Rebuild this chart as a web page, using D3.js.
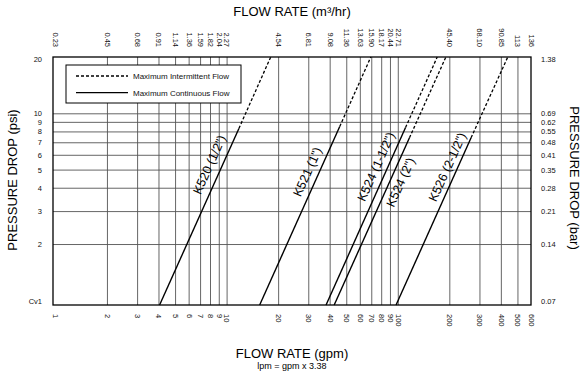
<!DOCTYPE html>
<html>
<head>
<meta charset="utf-8">
<script src="https://cdn.jsdelivr.net/npm/d3@7"></script>
<style>
  body { margin: 0; background: #fff; }
  svg { display: block; font-family: "Liberation Sans", Arial, sans-serif; }
</style>
</head>
<body>
<div id="chart"></div>
<script>
// flow rate ticks (gpm) and the matching m3/hr labels on top
var gpmTicks = [1, 2, 3, 4, 5, 6, 7, 8, 9, 10, 20, 30, 40, 50, 60, 70, 80, 90, 100, 200, 300, 400, 500, 600];
var m3hrLabels = ["0.23", "0.45", "0.68", "0.91", "1.14", "1.36", "1.59", "1.82", "2.04", "2.27",
  "4.54", "6.81", "9.08", "11.36", "13.63", "15.90", "18.17", "20.44", "22.71",
  "45.40", "68.10", "90.85", "113", "136"];

// pressure drop ticks (psi) and bar labels on the right
var psiTicks = [1, 2, 3, 4, 5, 6, 7, 8, 9, 10, 20];
var psiLabels = ["Cv1", "2", "3", "4", "5", "6", "7", "8", "9", "10", "20"];
var barLabels = ["0.07", "0.14", "0.21", "0.28", "0.35", "0.41", "0.48", "0.55", "0.62", "0.69", "1.38"];

// valve curves: flow at bottom edge, end of continuous flow, end of intermittent flow (20 psi)
var models = ["K520 (1/2\")", "K521 (1\")", "K524 (1-1/2\")", "K524 (2\")", "K526 (2-1/2\")"];
var startGpm = [4.06, 15.6, 38.1, 42.5, 97.7];
var contGpm = [11.8, 45.8, 111, 117, 268];
var contPsi = [8.3, 8.5, 8.4, 7.4, 7.4];
var maxGpm = [18.1, 69.6, 170, 191, 439];
var maxPsi = 20;
var minPsi = 0.944;

var width = 585, height = 373;
var plotL = 53, plotR = 531, plotT = 57, plotB = 305;

var svg = d3.select("#chart").append("svg")
  .attr("width", width).attr("height", height);

var x = d3.scaleLog().domain([0.968, 600]).range([plotL, plotR]);
var y = d3.scaleLog().domain([minPsi, maxPsi]).range([plotB, plotT]);

// grid
var gridX = svg.append("g").attr("transform", "translate(0," + plotB + ")")
  .call(d3.axisBottom(x).tickValues(gpmTicks.filter(function(d) { return d > 1 && d < 600; }))
    .tickSize(-(plotB - plotT)).tickFormat(""));
var gridY = svg.append("g").attr("transform", "translate(" + plotL + ",0)")
  .call(d3.axisLeft(y).tickValues(psiTicks.filter(function(d) { return d > 1 && d < 20; }))
    .tickSize(-(plotR - plotL)).tickFormat(""));
svg.selectAll("g").select(".domain").remove();
svg.selectAll("g .tick line").attr("stroke", "#555").attr("stroke-width", 0.9);

// axes labels
var bottomAxis = svg.append("g").attr("transform", "translate(0," + plotB + ")")
  .call(d3.axisBottom(x).tickValues(gpmTicks).tickSize(0).tickFormat(function(d, i) { return gpmTicks[i]; }));
bottomAxis.selectAll("text")
  .attr("y", 0).attr("x", 9).attr("dy", "0.35em")
  .attr("transform", "rotate(90)")
  .style("text-anchor", "start");

var topAxis = svg.append("g").attr("transform", "translate(0," + plotT + ")")
  .call(d3.axisTop(x).tickValues(gpmTicks).tickSize(0).tickFormat(function(d, i) { return m3hrLabels[i]; }));
topAxis.selectAll("text")
  .attr("y", 0).attr("x", -10).attr("dy", "0.35em")
  .attr("transform", "rotate(90)")
  .style("text-anchor", "end");

var leftAxis = svg.append("g").attr("transform", "translate(" + plotL + ",0)")
  .call(d3.axisLeft(y).tickValues(psiTicks).tickSize(0).tickPadding(11)
    .tickFormat(function(d, i) { return psiLabels[i]; }));

var rightAxis = svg.append("g").attr("transform", "translate(" + plotR + ",0)")
  .call(d3.axisRight(y).tickValues(psiTicks).tickSize(0).tickPadding(10)
    .tickFormat(function(d, i) { return barLabels[i]; }));

[bottomAxis, topAxis, leftAxis, rightAxis].forEach(function(a) {
  a.select(".domain").remove();
  a.selectAll("text").attr("fill", "#111").style("font-size", "7.5px")
    .style("font-family", "'Liberation Sans', Arial, sans-serif");
});
// edge labels sit a bit inside the frame
[leftAxis, rightAxis].forEach(function(a) {
  a.selectAll(".tick text").attr("dy", function(d) {
    if (d == 1) return "2.8";
    if (d == 20) return "4.5";
    return "0.32em";
  });
});

// frame
svg.append("rect")
  .attr("x", plotL).attr("y", plotT)
  .attr("width", plotR - plotL).attr("height", plotB - plotT)
  .attr("fill", "none").attr("stroke", "#000").attr("stroke-width", 1.3);

// curves
var line = d3.line().x(function(d) { return x(d[0]); }).y(function(d) { return y(d[1]); });
var curves = svg.append("g");
models.forEach(function(m, i) {
  curves.append("path")
    .attr("d", line([[startGpm[i], minPsi], [contGpm[i], contPsi[i]]]))
    .attr("fill", "none").attr("stroke", "#000").attr("stroke-width", 1.4);
  curves.append("path")
    .attr("d", line([[contGpm[i], contPsi[i]], [maxGpm[i], maxPsi]]))
    .attr("fill", "none").attr("stroke", "#000").attr("stroke-width", 1.3)
    .attr("stroke-dasharray", "3,2");
});

// curve labels, placed along each line (psi at label centre, offset to the left)
var labelAt = [5.0, 4.6, 4.9, 4.5, 4.9];
var labelOff = [12, 11, 11, -10, 10];
models.forEach(function(m, i) {
  var x0 = x(startGpm[i]), y0 = y(minPsi);
  var x1 = x(maxGpm[i]), y1 = y(maxPsi);
  var len = Math.sqrt((x1 - x0) * (x1 - x0) + (y1 - y0) * (y1 - y0));
  var ux = (x1 - x0) / len, uy = (y1 - y0) / len;
  var ang = Math.atan2(y1 - y0, x1 - x0) * 180 / Math.PI;
  var py = y(labelAt[i]);
  var px = x0 + (py - y0) / uy * ux;
  var cx = px + uy * labelOff[i], cy = py - ux * labelOff[i];
  svg.append("text")
    .attr("transform", "translate(" + cx + "," + cy + ")rotate(" + ang + ")")
    .attr("text-anchor", "middle").attr("dy", "0.35em")
    .style("font-size", "12.5px").attr("fill", "#000")
    .text(m);
});

// legend
var legend = svg.append("g");
legend.append("rect").attr("x", 66).attr("y", 65).attr("width", 175).attr("height", 38)
  .attr("fill", "#fff").attr("stroke", "#000").attr("stroke-width", 1);
var legendItems = [{ text: "Maximum Intermittent Flow", dash: "3,2" }, { text: "Maximum Continuous Flow", dash: null }];
legend.selectAll(".item").data(legendItems).enter().append("g")
  .attr("class", "item")
  .attr("transform", function(d, i) { return "translate(0," + (76 + i * 16.7) + ")"; })
  .each(function(d) {
    var g = d3.select(this);
    g.append("line").attr("x1", 76).attr("x2", 128).attr("y1", 0).attr("y2", 0)
      .attr("stroke", "#000").attr("stroke-width", 1.3)
      .attr("stroke-dasharray", d.dash);
    g.append("text").attr("x", 133).attr("dy", "0.35em")
      .style("font-size", "8px").attr("fill", "#111").text(d.text);
  });

// titles
svg.append("text").attr("x", 292).attr("y", 16).attr("text-anchor", "middle")
  .style("font-size", "13px").text("FLOW RATE (m³/hr)");
svg.append("text").attr("x", 292).attr("y", 357.5).attr("text-anchor", "middle")
  .style("font-size", "13px").text("FLOW RATE (gpm)");
svg.append("text").attr("x", 292).attr("y", 369).attr("text-anchor", "middle")
  .style("font-size", "9px").text("lpm = gpm x 3.38");
svg.append("text").attr("transform", "translate(17,180)rotate(-90)").attr("text-anchor", "middle")
  .style("font-size", "13px").text("PRESSURE DROP (psi)");
svg.append("text").attr("transform", "translate(570,178)rotate(90)").attr("text-anchor", "middle")
  .style("font-size", "13px").text("PRESSURE DROP (bar)");
</script>
</body>
</html>
